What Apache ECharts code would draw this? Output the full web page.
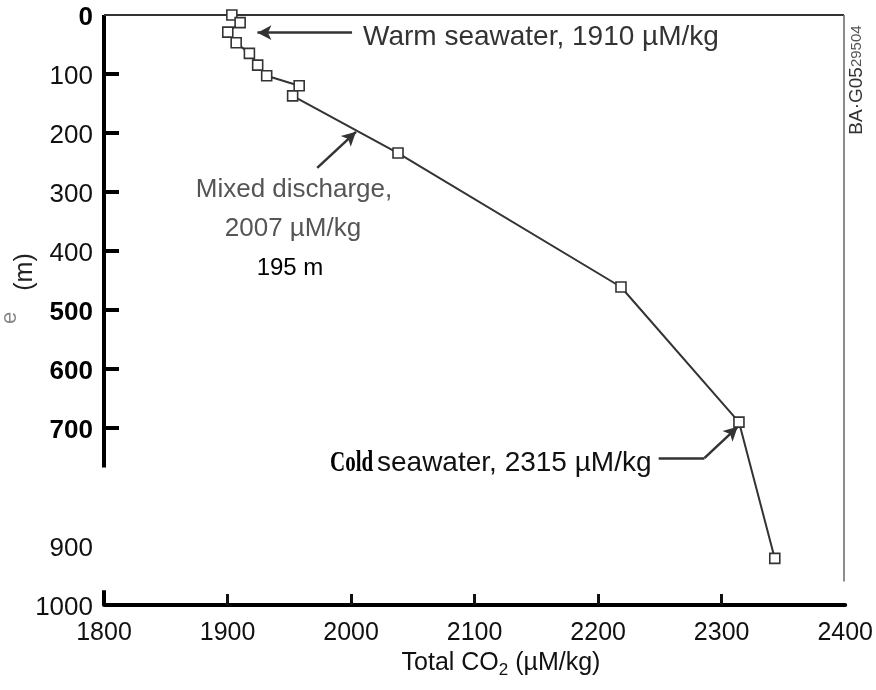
<!DOCTYPE html>
<html>
<head>
<meta charset="utf-8">
<script src="https://cdn.jsdelivr.net/npm/echarts@6/dist/echarts.min.js"></script>
<style>html,body{margin:0;padding:0;background:#fff}#c{width:876px;height:690px}</style>
</head>
<body>
<div id="c"></div>
<script>
// Data
var co2 = [1903.5, 1910.2, 1900.2, 1907, 1917.7, 1924.4, 1931.7, 1958, 1952.7, 2038, 2218.5, 2314, 2343];
var depth = [0, 13, 29, 47, 65, 85, 103, 120, 137, 234, 461, 690, 921];
var xTicks = [1800, 1900, 2000, 2100, 2200, 2300, 2400];
var yTickLabels = [0, 100, 200, 300, 400, 500, 600, 700, 900, 1000];
var yTickMarks = [100, 200, 300, 400, 500, 600, 700];
var boldLabels = [0, 500, 600, 700];

var points = co2.map(function (v, i) { return [v, depth[i]]; });

var chart = echarts.init(document.getElementById('c'), null, { renderer: 'canvas' });
var FONT = '"Liberation Sans", Arial, sans-serif';

function seg(a, b, style) {
  return [{ coord: a, lineStyle: style }, { coord: b }];
}

chart.setOption({
  animation: false,
  backgroundColor: '#fff',
  grid: { left: 104, right: 28, top: 15, bottom: 85, containLabel: false },
  xAxis: {
    type: 'value', min: 1800, max: 2400, interval: 100,
    axisLine: { show: true, onZero: false, lineStyle: { color: '#000', width: 4 } },
    axisTick: { show: true, inside: true, length: 11, customValues: xTicks.slice(1, 6), lineStyle: { color: '#111', width: 3 } },
    axisLabel: { customValues: xTicks, fontSize: 25, color: '#111', fontFamily: FONT, margin: 16,
      formatter: function (v) { return String(v); } },
    splitLine: { show: false }
  },
  yAxis: {
    type: 'value', min: 0, max: 1000, inverse: true,
    axisLine: { show: false },
    axisTick: { show: true, inside: true, length: 15, customValues: yTickMarks, lineStyle: { color: '#000', width: 4 } },
    axisLabel: {
      customValues: yTickLabels, fontSize: 26, color: '#111', fontFamily: FONT, margin: 11,
      formatter: function (v) { return boldLabels.indexOf(v) >= 0 ? '{b|' + v + '}' : '{n|' + v + '}'; },
      rich: {
        b: { fontSize: 26, fontWeight: 'bold', color: '#000', fontFamily: FONT, padding: [6, 0, 0, 0] },
        n: { fontSize: 26, color: '#111', fontFamily: FONT, padding: [6, 0, 0, 0] }
      }
    },
    splitLine: { show: false }
  },
  series: [
    {
      type: 'line',
      data: points,
      clip: false,
      symbol: 'rect',
      symbolSize: 10,
      lineStyle: { color: '#333', width: 2 },
      itemStyle: { color: '#fff', borderColor: '#333', borderWidth: 1.6 },
      z: 5,
      markLine: {
        silent: true, symbol: 'none', animation: false,
        label: { show: false },
        data: [
          seg([1800, 0], [1800, 767], { color: '#000', width: 4, type: 'solid' }),
          seg([1800, 975], [1800, 1000], { color: '#000', width: 4, type: 'solid' }),
          seg([1800, 0], [2399, 0], { color: '#333', width: 2, type: 'solid' }),
          seg([2399, 0], [2399, 960], { color: '#666', width: 1.5, type: 'solid' }),
          seg([2403, 958], [2403, 1000], { color: '#000', width: 5, type: 'solid' })
        ]
      }
    },
    {
      type: 'line',
      data: [],
      markLine: {
        silent: true, animation: false,
        symbol: ['none', 'arrow'], symbolSize: [11, 14],
        label: { show: false },
        lineStyle: { color: '#333', width: 2.5, type: 'solid' },
        data: [
          [{ coord: [2000.8, 30] }, { coord: [1924.2, 30] }],
          [{ coord: [1972.6, 259] }, { coord: [2004, 198] }],
          [{ coord: [2286, 751], symbol: 'none' }, { coord: [2249, 751], symbol: 'none' }],
          [{ coord: [2286, 751] }, { coord: [2313, 698] }]
        ]
      }
    }
  ],
  graphic: [
    { type: 'text', x: 363, y: 37, style: { text: 'Warm seawater, 1910 \u00b5M/kg', font: '28px ' + FONT, fill: '#333', textAlign: 'left', textVerticalAlign: 'middle' } },
    { type: 'text', x: 294, y: 190, style: { text: 'Mixed discharge,', font: '26px ' + FONT, fill: '#555', textAlign: 'center', textVerticalAlign: 'middle' } },
    { type: 'text', x: 293, y: 229, style: { text: '2007 \u00b5M/kg', font: '26px ' + FONT, fill: '#555', textAlign: 'center', textVerticalAlign: 'middle' } },
    { type: 'text', x: 290, y: 268, style: { text: '195 m', font: '24px ' + FONT, fill: '#000', textAlign: 'center', textVerticalAlign: 'middle' } },
    { type: 'text', x: 330, y: 463, scaleX: 0.7, style: { text: 'Cold', font: 'bold 30px "Liberation Serif", serif', fill: '#000', textAlign: 'left', textVerticalAlign: 'middle' } },
    { type: 'text', x: 377, y: 463, style: { text: 'seawater, 2315 \u00b5M/kg', font: '28px ' + FONT, fill: '#111', textAlign: 'left', textVerticalAlign: 'middle' } },
    { type: 'text', x: 25, y: 272, rotation: Math.PI / 2, style: { text: '(m)', font: '25px ' + FONT, fill: '#222', textAlign: 'center', textVerticalAlign: 'middle' } },
    { type: 'text', x: 10, y: 318, rotation: Math.PI / 2, style: { text: 'e', font: '22px ' + FONT, fill: '#888', textAlign: 'center', textVerticalAlign: 'middle' } },
    { type: 'text', x: 857, y: 80, rotation: Math.PI / 2, style: { text: '{a|BA\u00b7G05}{b|29504}', font: '17px ' + FONT, fill: '#444', textAlign: 'center', textVerticalAlign: 'middle',
      rich: { a: { fontSize: 19, fill: '#333', fontFamily: FONT }, b: { fontSize: 15, fill: '#555', fontFamily: FONT } } } },
    { type: 'text', x: 501, y: 663, style: { text: 'Total CO{s|2} (\u00b5M/kg)', font: '25px ' + FONT, fill: '#111', textAlign: 'center', textVerticalAlign: 'middle',
      rich: { s: { fontSize: 17, fontFamily: FONT, fill: '#111', padding: [14, 0, 0, 0] } } } }
  ]
});
</script>
</body>
</html>
